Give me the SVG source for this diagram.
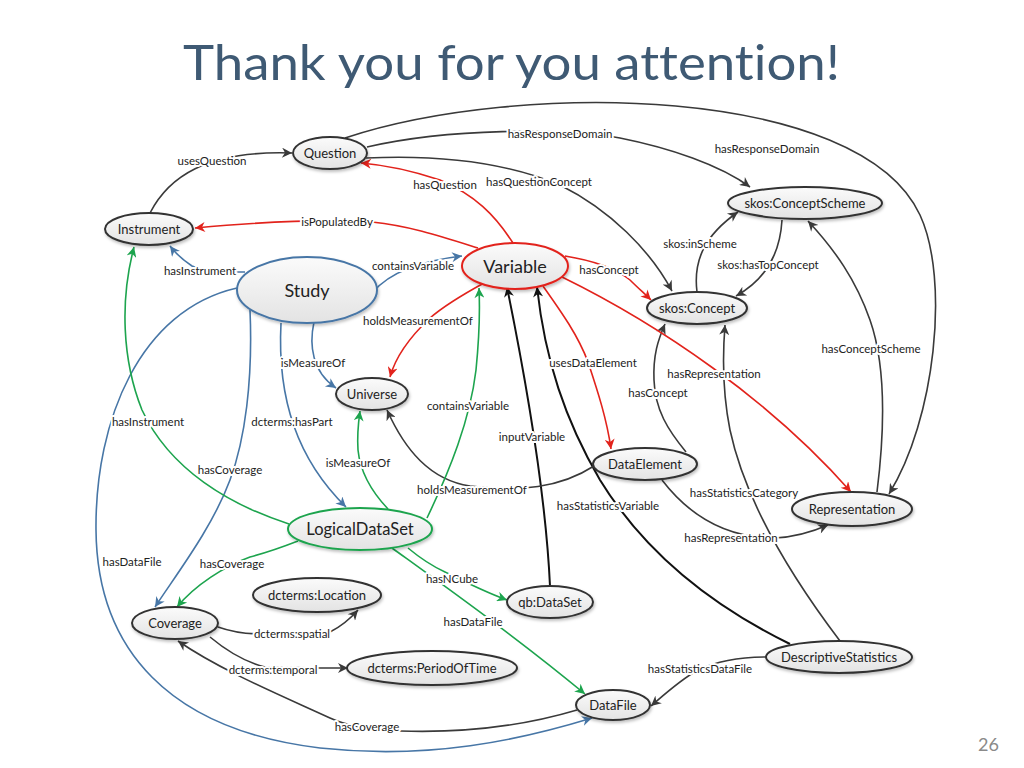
<svg xmlns="http://www.w3.org/2000/svg" width="1024" height="768" viewBox="0 0 1024 768">
<style>
.title{font-family:Lato,"Liberation Sans",sans-serif;font-size:48px;fill:#3f5a74;font-variant-ligatures:none;}
.pg{font-family:Lato,"Liberation Sans",sans-serif;font-size:18px;fill:#8a8a8a;}
.n{fill:url(#ng);stroke:#333;stroke-width:2;filter:url(#sh);}
.nt{font-family:Lato,"Liberation Sans",sans-serif;font-size:13px;fill:#222;text-anchor:middle;dominant-baseline:central;}
.big{font-size:18px;}
.c{fill:none;stroke-width:1.6;}
.d{stroke:#3a3a3a;marker-end:url(#ad);}
.k{stroke:#111;stroke-width:2;marker-end:url(#ak);}
.r{stroke:#e2231c;marker-end:url(#ar);}
.b{stroke:#4776a6;marker-end:url(#ab);}
.g{stroke:#1da44e;marker-end:url(#ag);}
.l{font-family:Lato,"Liberation Sans",sans-serif;font-size:11.5px;fill:#222;text-anchor:middle;dominant-baseline:central;paint-order:stroke;stroke:#fff;stroke-width:4px;stroke-linejoin:round;}
</style>
<defs>
<linearGradient id="ng" x1="0" y1="0" x2="0" y2="1"><stop offset="0" stop-color="#fbfbfb"/><stop offset="1" stop-color="#e3e3e3"/></linearGradient>
<filter id="sh" x="-20%" y="-30%" width="140%" height="170%"><feDropShadow dx="1" dy="2" stdDeviation="1.5" flood-color="#000" flood-opacity="0.25"/></filter>
<marker id="ad" viewBox="0 0 10 10" refX="10" refY="5" markerWidth="12" markerHeight="10" markerUnits="userSpaceOnUse" orient="auto"><path d="M0,0 L10,5 L0,10 L3,5 z" fill="#3a3a3a"/></marker>
<marker id="ak" viewBox="0 0 10 10" refX="10" refY="5" markerWidth="12" markerHeight="10" markerUnits="userSpaceOnUse" orient="auto"><path d="M0,0 L10,5 L0,10 L3,5 z" fill="#111"/></marker>
<marker id="ar" viewBox="0 0 10 10" refX="10" refY="5" markerWidth="12" markerHeight="10" markerUnits="userSpaceOnUse" orient="auto"><path d="M0,0 L10,5 L0,10 L3,5 z" fill="#e2231c"/></marker>
<marker id="ab" viewBox="0 0 10 10" refX="10" refY="5" markerWidth="12" markerHeight="10" markerUnits="userSpaceOnUse" orient="auto"><path d="M0,0 L10,5 L0,10 L3,5 z" fill="#4776a6"/></marker>
<marker id="ag" viewBox="0 0 10 10" refX="10" refY="5" markerWidth="12" markerHeight="10" markerUnits="userSpaceOnUse" orient="auto"><path d="M0,0 L10,5 L0,10 L3,5 z" fill="#1da44e"/></marker>
</defs>
<rect width="1024" height="768" fill="#fff"/>
<text class="title" x="183" y="80" textLength="657" lengthAdjust="spacingAndGlyphs">Thank you for you attention!</text>
<text class="pg" x="978" y="751">26</text>

<g id="connectors">
<path class="c d" d="M150,213 C168,178 205,150 292,153"/>
<path class="c d" d="M345,138 C520,80 860,85 920,215 C950,280 935,420 889,494"/>
<path class="c d" d="M367,147 C450,128 560,128 620,138 C670,148 720,165 750,187"/>
<path class="c d" d="M366,158 C430,155 500,160 560,185 C610,210 650,250 672,291"/>
<path class="c d" d="M697,292 C693,260 705,235 738,212"/>
<path class="c d" d="M782,220 C780,255 765,280 736,296"/>
<path class="c d" d="M877,492 C886,420 884,360 870,320 C856,280 835,250 808,221"/>
<path class="c d" d="M686,452 C668,430 655,410 654,380 C653,355 658,340 665,324"/>
<path class="c d" d="M840,641 C790,575 745,500 730,430 C722,390 723,350 725,325"/>
<path class="c d" d="M662,480 C685,510 720,538 775,538 C795,537 812,532 828,525"/>
<path class="c k" d="M790,644 C700,600 640,545 600,480 C565,420 545,360 537,287"/>
<path class="c k" d="M550,586 C546,500 530,400 507,287"/>
<path class="c d" d="M594,466 C560,488 520,492 470,486 C430,480 405,450 387,410"/>
<path class="c d" d="M767,657 C740,657 715,662 698,670 C680,680 665,694 651,706"/>
<path class="c d" d="M577,710 C520,727 460,733 400,731 C370,730 345,725 330,718 C280,695 220,670 178,641"/>
<path class="c d" d="M218,627 C232,632 245,634 262,634 L330,632 C342,626 350,619 358,610"/>
<path class="c d" d="M210,637 C228,652 245,662 265,667 L320,668 C332,668 340,668 348,668"/>

<path class="c r" d="M513,243 C495,215 475,195 440,180 C410,170 385,165 361,163"/>
<path class="c r" d="M478,248 C440,236 410,226 372,222 C330,219 260,222 195,228"/>
<path class="c r" d="M565,256 C590,260 615,268 630,280 C638,288 645,294 651,300"/>
<path class="c r" d="M484,283 C462,295 445,305 430,318 C412,335 396,355 390,377"/>
<path class="c r" d="M543,286 C560,310 578,335 588,362 C598,392 607,420 611,449"/>
<path class="c r" d="M562,277 C660,325 770,400 851,492"/>

<path class="c b" d="M245,272 C225,272 205,272 192,266 C183,260 176,254 170,246"/>
<path class="c b" d="M373,292 C385,278 410,262 462,256"/>
<path class="c b" d="M314,322 C309,345 312,372 336,388"/>
<path class="c b" d="M281,323 C277,400 298,460 346,507"/>
<path class="c b" d="M250,310 C253,380 245,440 230,480 C212,528 178,572 155,607"/>
<path class="c b" d="M237,288 C140,310 95,420 96,530 C97,650 170,730 320,748 C430,760 520,740 592,718"/>

<path class="c g" d="M289,524 C230,505 170,470 142,410 C122,360 120,300 134,247"/>
<path class="c g" d="M427,518 C450,470 470,420 476,370 C480,330 480,310 479,288"/>
<path class="c g" d="M388,509 C370,490 360,470 358,450 C357,435 358,425 360,411"/>
<path class="c g" d="M298,541 C280,548 265,553 250,557 C225,566 195,585 177,607"/>
<path class="c g" d="M408,548 C420,558 432,566 445,572 C465,582 485,592 507,600"/>
<path class="c g" d="M392,548 C450,590 520,640 585,694"/>

<text class="l" x="212" y="160">usesQuestion</text>
<text class="l" x="560" y="133">hasResponseDomain</text>
<text class="l" x="767" y="148">hasResponseDomain</text>
<text class="l" x="539" y="181">hasQuestionConcept</text>
<text class="l" x="445" y="184">hasQuestion</text>
<text class="l" x="337" y="221">isPopulatedBy</text>
<text class="l" x="700" y="243">skos:inScheme</text>
<text class="l" x="768" y="264">skos:hasTopConcept</text>
<text class="l" x="609" y="269">hasConcept</text>
<text class="l" x="200" y="270">hasInstrument</text>
<text class="l" x="413" y="265">containsVariable</text>
<text class="l" x="418" y="320">holdsMeasurementOf</text>
<text class="l" x="871" y="348">hasConceptScheme</text>
<text class="l" x="313" y="362">isMeasureOf</text>
<text class="l" x="593" y="362">usesDataElement</text>
<text class="l" x="714" y="373">hasRepresentation</text>
<text class="l" x="658" y="392">hasConcept</text>
<text class="l" x="468" y="405">containsVariable</text>
<text class="l" x="148" y="421">hasInstrument</text>
<text class="l" x="292" y="421">dcterms:hasPart</text>
<text class="l" x="532" y="436">inputVariable</text>
<text class="l" x="358" y="462">isMeasureOf</text>
<text class="l" x="230" y="469">hasCoverage</text>
<text class="l" x="472" y="489">holdsMeasurementOf</text>
<text class="l" x="744" y="492">hasStatisticsCategory</text>
<text class="l" x="608" y="505">hasStatisticsVariable</text>
<text class="l" x="731" y="537">hasRepresentation</text>
<text class="l" x="132" y="561">hasDataFile</text>
<text class="l" x="232" y="563">hasCoverage</text>
<text class="l" x="452" y="578">hasNCube</text>
<text class="l" x="473" y="621">hasDataFile</text>
<text class="l" x="292" y="633">dcterms:spatial</text>
<text class="l" x="273" y="669">dcterms:temporal</text>
<text class="l" x="700" y="668">hasStatisticsDataFile</text>
<text class="l" x="367" y="726">hasCoverage</text>
</g>

<g id="Question"><ellipse class="n" cx="330" cy="153" rx="37" ry="16"/><text class="nt" x="330" y="153">Question</text></g>
<g id="Instrument"><ellipse class="n" cx="149" cy="229" rx="44" ry="16"/><text class="nt" x="149" y="229">Instrument</text></g>
<g id="Study"><ellipse class="n" cx="307" cy="290" rx="70" ry="33" style="stroke:#4776a6"/><text class="nt big" x="307" y="290">Study</text></g>
<g id="Variable"><ellipse class="n" cx="515" cy="266" rx="53" ry="23" style="stroke:#e2231c"/><text class="nt big" x="515" y="266">Variable</text></g>
<g id="ConceptScheme"><ellipse class="n" cx="805" cy="203" rx="77" ry="16"/><text class="nt" x="805" y="203">skos:ConceptScheme</text></g>
<g id="Concept"><ellipse class="n" cx="697" cy="308" rx="50" ry="16"/><text class="nt" x="697" y="308">skos:Concept</text></g>
<g id="Universe"><ellipse class="n" cx="372" cy="394" rx="36" ry="16"/><text class="nt" x="372" y="394">Universe</text></g>
<g id="DataElement"><ellipse class="n" cx="645" cy="464" rx="52" ry="16"/><text class="nt" x="645" y="464">DataElement</text></g>
<g id="Representation"><ellipse class="n" cx="852" cy="509" rx="60" ry="17"/><text class="nt" x="852" y="509">Representation</text></g>
<g id="LogicalDataSet"><ellipse class="n" cx="360" cy="529" rx="72" ry="21" style="stroke:#1da44e"/><text class="nt" x="360" y="529" style="font-size:16.5px">LogicalDataSet</text></g>
<g id="qbDataSet"><ellipse class="n" cx="550" cy="602" rx="43" ry="16"/><text class="nt" x="550" y="602">qb:DataSet</text></g>
<g id="Location"><ellipse class="n" cx="317" cy="595" rx="64" ry="17"/><text class="nt" x="317" y="595">dcterms:Location</text></g>
<g id="Coverage"><ellipse class="n" cx="175" cy="623" rx="43" ry="16"/><text class="nt" x="175" y="623">Coverage</text></g>
<g id="PeriodOfTime"><ellipse class="n" cx="432" cy="668" rx="85" ry="17"/><text class="nt" x="432" y="668">dcterms:PeriodOfTime</text></g>
<g id="DataFile"><ellipse class="n" cx="613" cy="705" rx="37" ry="15"/><text class="nt" x="613" y="705">DataFile</text></g>
<g id="DescriptiveStatistics"><ellipse class="n" cx="839" cy="657" rx="73" ry="16"/><text class="nt" x="839" y="657">DescriptiveStatistics</text></g>
</svg>
